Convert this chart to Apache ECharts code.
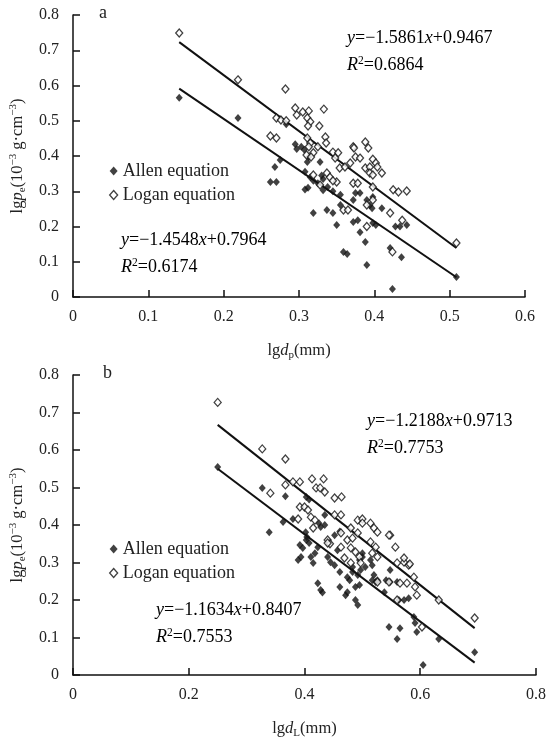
<!DOCTYPE html>
<html><head><meta charset="utf-8">
<script src="https://cdn.jsdelivr.net/npm/echarts@6/dist/echarts.min.js"></script>
<style>html,body{margin:0;padding:0;background:#fff}#c{width:549px;height:743px}</style>
</head><body><div id="c"></div>
<script>
// ---- data ----
const xTicksA = ['0','0.1','0.2','0.3','0.4','0.5','0.6'];
const yTicks = ['0','0.1','0.2','0.3','0.4','0.5','0.6','0.7','0.8'];
const xTicksB = ['0','0.2','0.4','0.6','0.8'];

const allenA = [
[0.141,0.565],[0.219,0.508],[0.283,0.49],
[0.275,0.389],[0.268,0.369],[0.262,0.326],[0.27,0.326],
[0.295,0.433],[0.297,0.42],[0.303,0.426],[0.307,0.418],[0.313,0.397],[0.311,0.383],[0.328,0.383],
[0.308,0.355],[0.315,0.34],[0.319,0.33],[0.312,0.31],[0.308,0.305],[0.325,0.323],[0.33,0.345],[0.332,0.335],[0.338,0.312],[0.332,0.303],[0.345,0.30],
[0.355,0.29],[0.372,0.275],[0.375,0.295],[0.381,0.295],[0.39,0.275],[0.394,0.26],[0.398,0.284],[0.41,0.252],
[0.319,0.238],[0.337,0.247],[0.345,0.238],[0.35,0.204],[0.355,0.261],[0.359,0.128],[0.364,0.122],
[0.372,0.213],[0.378,0.218],[0.381,0.184],[0.388,0.156],[0.39,0.091],[0.397,0.252],[0.398,0.21],[0.402,0.204],
[0.421,0.139],[0.424,0.023],[0.428,0.2],[0.434,0.2],[0.443,0.204],[0.436,0.113],[0.509,0.057]
];
const loganA = [
[0.141,0.749],[0.219,0.616],[0.282,0.59],
[0.295,0.536],[0.297,0.516],[0.305,0.525],[0.313,0.528],[0.311,0.508],[0.315,0.497],[0.312,0.485],[0.327,0.485],[0.333,0.533],
[0.270,0.508],[0.276,0.502],[0.283,0.50],
[0.262,0.457],[0.270,0.451],
[0.311,0.451],[0.315,0.437],[0.313,0.426],[0.335,0.454],[0.336,0.437],[0.325,0.426],[0.319,0.409],[0.310,0.403],[0.316,0.397],
[0.345,0.411],[0.352,0.409],[0.372,0.426],[0.388,0.44],[0.392,0.423],[0.373,0.423],
[0.375,0.397],[0.381,0.394],[0.368,0.38],[0.348,0.394],[0.354,0.366],[0.361,0.369],
[0.398,0.391],[0.402,0.38],[0.404,0.369],[0.388,0.366],[0.394,0.369],[0.394,0.352],[0.398,0.346],[0.41,0.352],
[0.319,0.346],[0.337,0.352],[0.341,0.34],[0.35,0.326],[0.345,0.33],[0.372,0.323],[0.378,0.323],[0.398,0.312],[0.328,0.318],
[0.425,0.304],[0.432,0.298],[0.443,0.301],
[0.359,0.247],[0.365,0.247],[0.39,0.261],[0.398,0.275],[0.39,0.2],[0.421,0.238],[0.437,0.218],[0.424,0.128],[0.509,0.153]
];
const fitAllenA = [[0.141,0.591],[0.509,0.056]];
const fitLoganA = [[0.141,0.723],[0.509,0.139]];

const allenB = [
[0.25,0.555],[0.327,0.499],[0.367,0.477],[0.403,0.475],[0.408,0.468],
[0.363,0.408],[0.38,0.416],[0.339,0.381],
[0.402,0.381],[0.404,0.368],
[0.435,0.427],[0.428,0.395],[0.435,0.40],[0.425,0.405],
[0.403,0.36],[0.408,0.352],
[0.392,0.347],[0.397,0.339],[0.389,0.307],[0.394,0.315],[0.415,0.299],[0.411,0.315],[0.418,0.325],[0.423,0.341],
[0.423,0.245],[0.428,0.227],[0.431,0.22],
[0.452,0.373],[0.457,0.333],[0.461,0.383],
[0.461,0.275],[0.461,0.235],[0.471,0.213],[0.474,0.221],[0.478,0.253],[0.474,0.261],
[0.483,0.288],[0.483,0.275],[0.488,0.2],[0.492,0.187],[0.488,0.235],[0.495,0.24],
[0.492,0.267],[0.497,0.28],[0.5,0.325],[0.495,0.307],
[0.514,0.307],[0.517,0.293],[0.52,0.267],[0.526,0.253],[0.517,0.253],[0.523,0.248],
[0.541,0.253],[0.548,0.248],[0.538,0.221],[0.548,0.28],[0.5,0.315],[0.505,0.288],
[0.56,0.248],[0.563,0.2],[0.572,0.2],[0.58,0.205],
[0.589,0.155],[0.591,0.139],[0.546,0.128],[0.565,0.125],[0.56,0.096],[0.594,0.115],[0.632,0.096],[0.605,0.027],[0.694,0.061],
[0.44,0.315],[0.445,0.301],[0.452,0.293]
];
const loganB = [
[0.25,0.727],[0.327,0.603],[0.367,0.576],
[0.367,0.507],[0.38,0.515],[0.392,0.515],[0.341,0.485],
[0.413,0.523],[0.433,0.523],[0.42,0.499],[0.427,0.499],[0.435,0.488],
[0.452,0.472],[0.464,0.475],
[0.392,0.448],[0.40,0.448],[0.406,0.44],[0.389,0.416],[0.411,0.421],[0.418,0.413],
[0.452,0.427],[0.463,0.427],
[0.48,0.392],[0.492,0.413],[0.5,0.416],[0.5,0.405],[0.514,0.405],[0.52,0.392],[0.526,0.381],[0.548,0.373],[0.463,0.379],
[0.44,0.36],[0.444,0.35],[0.415,0.392],
[0.44,0.352],[0.463,0.341],[0.474,0.36],[0.483,0.365],[0.492,0.379],[0.48,0.339],[0.488,0.328],[0.495,0.315],[0.469,0.312],[0.48,0.299],[0.497,0.299],
[0.514,0.355],[0.523,0.341],[0.517,0.325],[0.526,0.315],[0.546,0.373],[0.557,0.341],[0.56,0.299],[0.572,0.301],[0.58,0.293],[0.572,0.312],[0.582,0.296],
[0.589,0.261],[0.591,0.235],[0.594,0.213],[0.577,0.245],[0.546,0.248],[0.565,0.245],[0.56,0.2],[0.632,0.2],[0.694,0.152],[0.603,0.128],[0.526,0.248]
];
const fitAllenB = [[0.25,0.55],[0.694,0.033]];
const fitLoganB = [[0.25,0.667],[0.694,0.125]];

const seriesNames = ['Allen equation','Logan equation'];
const eqA = [['−1.5861','0.9467','0.6864'],['−1.4548','0.7964','0.6174']];
const eqB = [['−1.2188','0.9713','0.7753'],['−1.1634','0.8407','0.7553']];

// ---- chart ----
const F = 'Liberation Serif';
const TXT = '#222';
const chart = echarts.init(document.getElementById('c'), null, {renderer:'canvas'});

const richName = {
  t:{fontFamily:F,fontSize:16.5,color:TXT,lineHeight:20,verticalAlign:'middle'},
  i:{fontFamily:F,fontSize:16.5,color:TXT,fontStyle:'italic',lineHeight:20},
  s:{fontFamily:F,fontSize:11,color:TXT,lineHeight:11,verticalAlign:'bottom'},
  u:{fontFamily:F,fontSize:11,color:TXT,lineHeight:11,verticalAlign:'top'}
};
const yName = '{t|lg}{i|p}{s|e}{t|(10}{u|−3}{t| g·cm}{u|−3}{t|)}';

function xAxisDef(idx, max, interval, ticks, sub){
  return {
    type:'value', gridIndex:idx, min:0, max:max, interval:interval,
    name:'{t|lg}{i|d}{s|'+sub+'}{t|(mm)}', nameLocation:'middle', nameGap:44,
    nameTextStyle:{rich:richName},
    axisLine:{show:true,onZero:false,lineStyle:{color:'#111',width:1.5}},
    axisTick:{show:true,inside:true,length:7,lineStyle:{color:'#111',width:1.5}},
    axisLabel:{margin:12,fontFamily:F,fontSize:16,color:TXT,
      formatter:v=>ticks[Math.round(v/interval)]},
    splitLine:{show:false}
  };
}
function yAxisDef(idx){
  return {
    type:'value', gridIndex:idx, min:0, max:0.8, interval:0.1,
    name:yName, nameLocation:'middle', nameGap:44, nameRotate:90,
    nameTextStyle:{rich:richName},
    axisLine:{show:true,onZero:false,lineStyle:{color:'#111',width:1.5}},
    axisTick:{show:true,inside:true,length:7,lineStyle:{color:'#111',width:1.5}},
    axisLabel:{margin:14,fontFamily:F,fontSize:16,color:TXT,
      formatter:v=>yTicks[Math.round(v/0.1)]},
    splitLine:{show:false}
  };
}
const filled = {color:'#111'};
const open = {color:'#fff',borderColor:'#111',borderWidth:1.3};
function scatter(name, data, idx, style){
  return {name, type:'scatter', xAxisIndex:idx, yAxisIndex:idx, data,
    symbol:'diamond', symbolSize:[7,8], itemStyle:style, z:3, silent:true};
}
function fit(data, idx){
  return {type:'line', xAxisIndex:idx, yAxisIndex:idx, data, symbol:'none',
    lineStyle:{color:'#111',width:2}, z:2, silent:true};
}
function legendDef(top){
  return {orient:'vertical', left:104, top:top, itemGap:6, itemWidth:8, itemHeight:9,
    textStyle:{fontFamily:F,fontSize:18,color:TXT}, selectedMode:false,
    data:[{name:seriesNames[0],icon:'diamond',itemStyle:filled},
          {name:seriesNames[1],icon:'diamond',itemStyle:open}]};
}
const eqRich = {
  t:{fontFamily:F,fontSize:18,color:TXT,lineHeight:20},
  i:{fontFamily:F,fontSize:18,color:TXT,fontStyle:'italic',lineHeight:20},
  u:{fontFamily:F,fontSize:11.5,color:TXT,lineHeight:11,verticalAlign:'top'}
};
function eqText(x, y, e){
  return [
    {type:'text', left:x, top:y, style:{rich:eqRich,
      text:'{i|y}{t|='+e[0]+'}{i|x}{t|+'+e[1]+'}'}},
    {type:'text', left:x, top:y+26, style:{rich:eqRich,
      text:'{i|R}{u|2}{t|='+e[2]+'}'}}
  ];
}

chart.setOption({
  animation:false,
  backgroundColor:'#fff',
  grid:[
    {left:73, top:15, width:452, height:282, containLabel:false},
    {left:73, top:375, width:467, height:300, containLabel:false}
  ],
  xAxis:[xAxisDef(0,0.6,0.1,xTicksA,'p'), xAxisDef(1,0.8,0.2,xTicksB,'L')],
  yAxis:[yAxisDef(0), yAxisDef(1)],
  legend:[legendDef(157), legendDef(535)],
  series:[
    fit(fitLoganA,0), fit(fitAllenA,0),
    scatter(seriesNames[0], allenA, 0, filled),
    scatter(seriesNames[1], loganA, 0, open),
    fit(fitLoganB,1), fit(fitAllenB,1),
    scatter(seriesNames[0], allenB, 1, filled),
    scatter(seriesNames[1], loganB, 1, open)
  ],
  graphic:[
    {type:'text', left:99, top:4, style:{text:'a',fontFamily:F,fontSize:18,fill:TXT}},
    {type:'text', left:103, top:364, style:{text:'b',fontFamily:F,fontSize:18,fill:TXT}},
    ...eqText(347, 29, eqA[0]),
    ...eqText(121, 231, eqA[1]),
    ...eqText(367, 412, eqB[0]),
    ...eqText(156, 601, eqB[1])
  ]
});
</script></body></html>
